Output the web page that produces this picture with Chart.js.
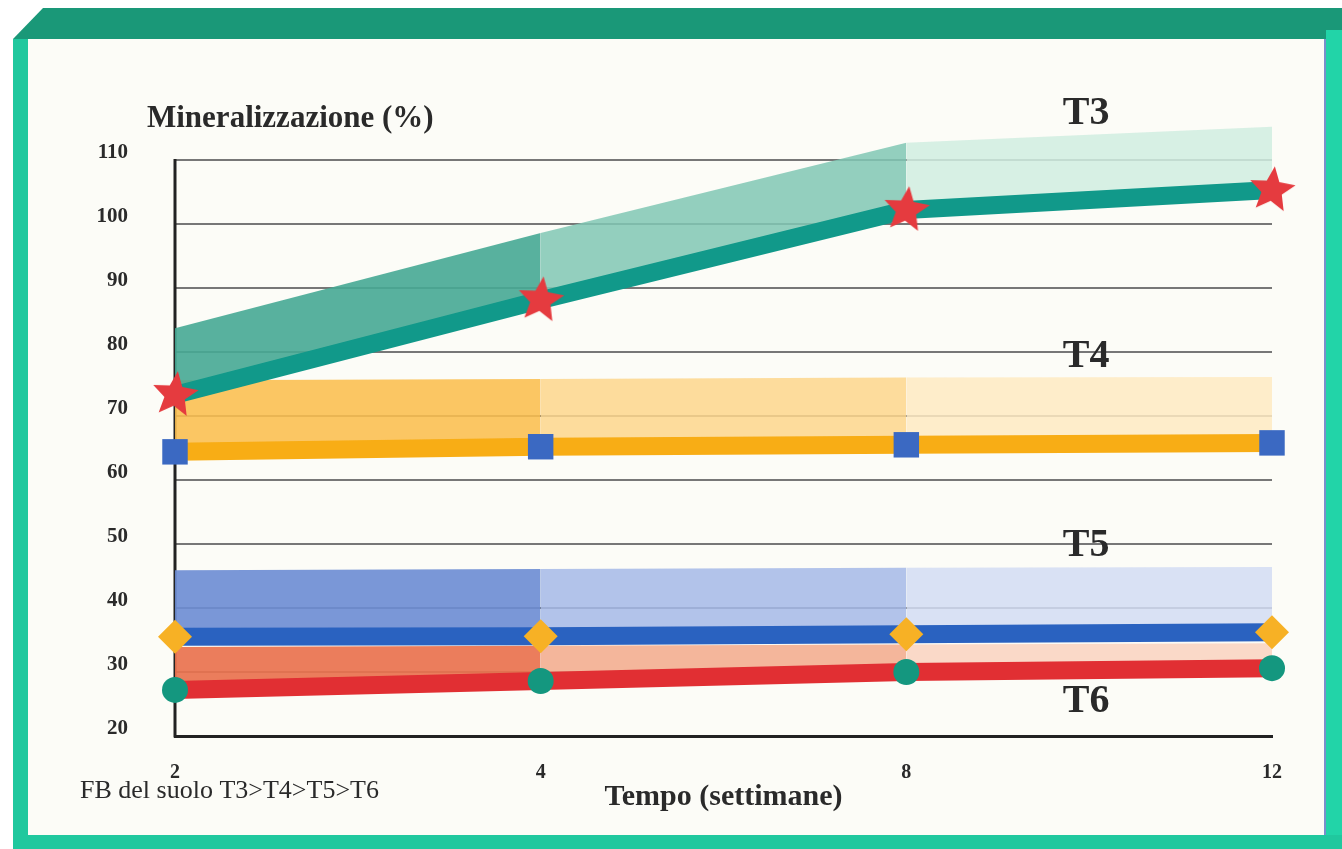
<!DOCTYPE html>
<html>
<head>
<meta charset="utf-8">
<script src="https://cdn.jsdelivr.net/npm/chart.js@4.4.1/dist/chart.umd.min.js"></script>
<style>
html, body { margin: 0; padding: 0; width: 1342px; height: 849px; overflow: hidden; background: #fff; }
.bar { position: absolute; }
#page { left: 28px; top: 39px; width: 1298px; height: 796px; background: #fcfcf7; }
#topBar { left: 13px; top: 8px; width: 1329px; height: 31px; background: #1a9878; clip-path: polygon(30px 0, 100% 0, 100% 100%, 0 100%); }
#leftBar { left: 13px; top: 39px; width: 15px; height: 810px; background: #20c89e; }
#rightBar { left: 1326px; top: 30px; width: 16px; height: 805px; background: #22d4a8; }
#bottomBar { left: 13px; top: 835px; width: 1329px; height: 14px; background: #20c89e; }
#edge { left: 1324px; top: 39px; width: 2px; height: 796px; background: #7a8fcc; }
#chart { position: absolute; left: 0; top: 0; }
</style>
</head>
<body>
<div class="bar" id="page"></div>
<div class="bar" id="topBar"></div>
<div class="bar" id="leftBar"></div>
<div class="bar" id="rightBar"></div>
<div class="bar" id="bottomBar"></div>
<div class="bar" id="edge"></div>
<canvas id="chart" width="1342" height="849"></canvas>
<script>
// weeks on the x axis and y tick labels
const weeks = ['2', '4', '8', '12'];
const yTicks = [20, 30, 40, 50, 60, 70, 80, 90, 100, 110];
const seriesNames = ['T3', 'T4', 'T5', 'T6'];

// mineralisation (%) - marker line and top edge of the shaded ribbon
const t3Line = [73.3, 88.1, 102.2, 105.3];
const t3Top = [83.7, 98.6, 112.7, 115.2];
const t4Line = [64.4, 65.2, 65.5, 65.8];
const t4Top = [75.6, 75.8, 76.0, 76.1];
const t5Line = [35.5, 35.6, 35.9, 36.2];
const t5Top = [45.9, 46.1, 46.3, 46.4];
const t6Line = [27.2, 28.6, 30.0, 30.6];
const t6Top = [33.9, 34.1, 34.3, 34.5];

const lines = [t3Line, t4Line, t5Line, t6Line];
const tops = [t3Top, t4Top, t5Top, t6Top];

const SERIF = "'Liberation Serif', 'Times New Roman', serif";
const TEXT = '#2a2a2a';

function makeStar(r, color) {
    const c = document.createElement('canvas');
    c.width = c.height = r * 2 + 2;
    const g = c.getContext('2d');
    g.fillStyle = color;
    g.beginPath();
    for (let i = 0; i < 10; i++) {
        const rad = i % 2 ? r * 0.45 : r;
        const a = -Math.PI / 2 + i * Math.PI / 5 + 0.12;
        g.lineTo(r + 1 + rad * Math.cos(a), r + 1 + rad * Math.sin(a));
    }
    g.closePath();
    g.fill();
    return c;
}

const styles = [
    { line: '#11998a', bands: ['rgba(70,168,148,0.9)', 'rgba(128,199,180,0.85)', 'rgba(208,237,224,0.85)'],
      marker: makeStar(24, '#e53b3f'), radius: 24, markerColor: '#e53b3f', labelAt: 117.2 },
    { line: '#f8ad15', bands: ['rgba(251,190,78,0.88)', 'rgba(253,214,140,0.85)', 'rgba(254,234,194,0.85)'],
      marker: 'rect', radius: 18, markerColor: '#3b69c2', labelAt: 79.2 },
    { line: '#2a62c0', bands: ['rgba(108,140,211,0.9)', 'rgba(164,185,232,0.85)', 'rgba(210,220,243,0.85)'],
      marker: 'rectRot', radius: 17, markerColor: '#f7b125', labelAt: 49.8 },
    { line: '#e12f33', bands: ['rgba(233,114,78,0.92)', 'rgba(243,172,142,0.88)', 'rgba(249,212,194,0.88)'],
      marker: 'circle', radius: 13, markerColor: '#14977f', labelAt: 25.3 }
];

const datasets = [];
seriesNames.forEach((name, i) => {
    const s = styles[i];
    datasets.push({
        label: name,
        data: lines[i],
        borderColor: s.line,
        borderWidth: 18,
        borderCapStyle: 'butt',
        borderJoinStyle: 'miter',
        tension: 0,
        fill: false,
        clip: false,
        pointStyle: s.marker,
        pointRadius: s.radius,
        pointBackgroundColor: s.markerColor,
        pointBorderWidth: 0
    });
    datasets.push({
        label: name + ' ribbon',
        data: tops[i],
        borderColor: 'rgba(0,0,0,0)',
        borderWidth: 0,
        pointRadius: 0,
        tension: 0,
        fill: '-1',
        backgroundColor: s.bands[0],
        segment: { backgroundColor: c => s.bands[c.p0DataIndex] }
    });
});

const yAxisLine = {
    id: 'yAxisLine',
    beforeDatasetsDraw(chart) {
        const { ctx, chartArea, scales: { y } } = chart;
        ctx.save();
        ctx.strokeStyle = '#222';
        ctx.lineWidth = 3;
        ctx.beginPath();
        ctx.moveTo(chartArea.left, y.getPixelForValue(yTicks[yTicks.length - 1]) - 1);
        ctx.lineTo(chartArea.left, chartArea.bottom + 1.5);
        ctx.stroke();
        ctx.restore();
    }
};

const texts = {
    id: 'texts',
    afterDatasetsDraw(chart) {
        const { ctx, scales: { x, y } } = chart;
        ctx.save();
        ctx.fillStyle = TEXT;
        ctx.textAlign = 'left';
        ctx.textBaseline = 'alphabetic';
        ctx.font = 'bold 31px ' + SERIF;
        ctx.fillText('Mineralizzazione (%)', 147, 127);
        ctx.font = '26px ' + SERIF;
        ctx.fillText('FB del suolo T3>T4>T5>T6', 80, 798);
        ctx.font = 'bold 40px ' + SERIF;
        ctx.textAlign = 'center';
        ctx.textBaseline = 'middle';
        seriesNames.forEach((name, i) => {
            ctx.fillText(name, x.getPixelForValue(2.5) - 3, y.getPixelForValue(styles[i].labelAt));
        });
        ctx.restore();
    }
};

new Chart(document.getElementById('chart').getContext('2d'), {
    type: 'line',
    data: { labels: weeks, datasets: datasets },
    options: {
        responsive: false,
        animation: false,
        layout: { padding: { top: 121.6, right: 70, bottom: 0, left: 0 } },
        plugins: { legend: { display: false }, tooltip: { enabled: false } },
        scales: {
            x: {
                type: 'category',
                offset: false,
                grid: { display: false },
                border: { color: '#222', width: 3 },
                ticks: { font: { family: SERIF, weight: 'bold', size: 20 }, color: TEXT, padding: 17, maxRotation: 0 },
                title: { display: true, text: 'Tempo (settimane)', color: TEXT,
                         font: { family: SERIF, weight: 'bold', size: 30 }, padding: { top: 0, bottom: 34 } },
                afterFit: s => { s.height = 113; }
            },
            y: {
                min: 20,
                max: 116,
                afterBuildTicks: s => { s.ticks = yTicks.map(v => ({ value: v })); },
                grid: { color: '#777', lineWidth: 2, drawTicks: false },
                border: { display: false },
                ticks: { font: { family: SERIF, weight: 'bold', size: 21 }, color: TEXT, padding: 47, labelOffset: -7 },
                afterFit: s => { s.width = 175; }
            }
        }
    },
    plugins: [yAxisLine, texts]
});
</script>
</body>
</html>
